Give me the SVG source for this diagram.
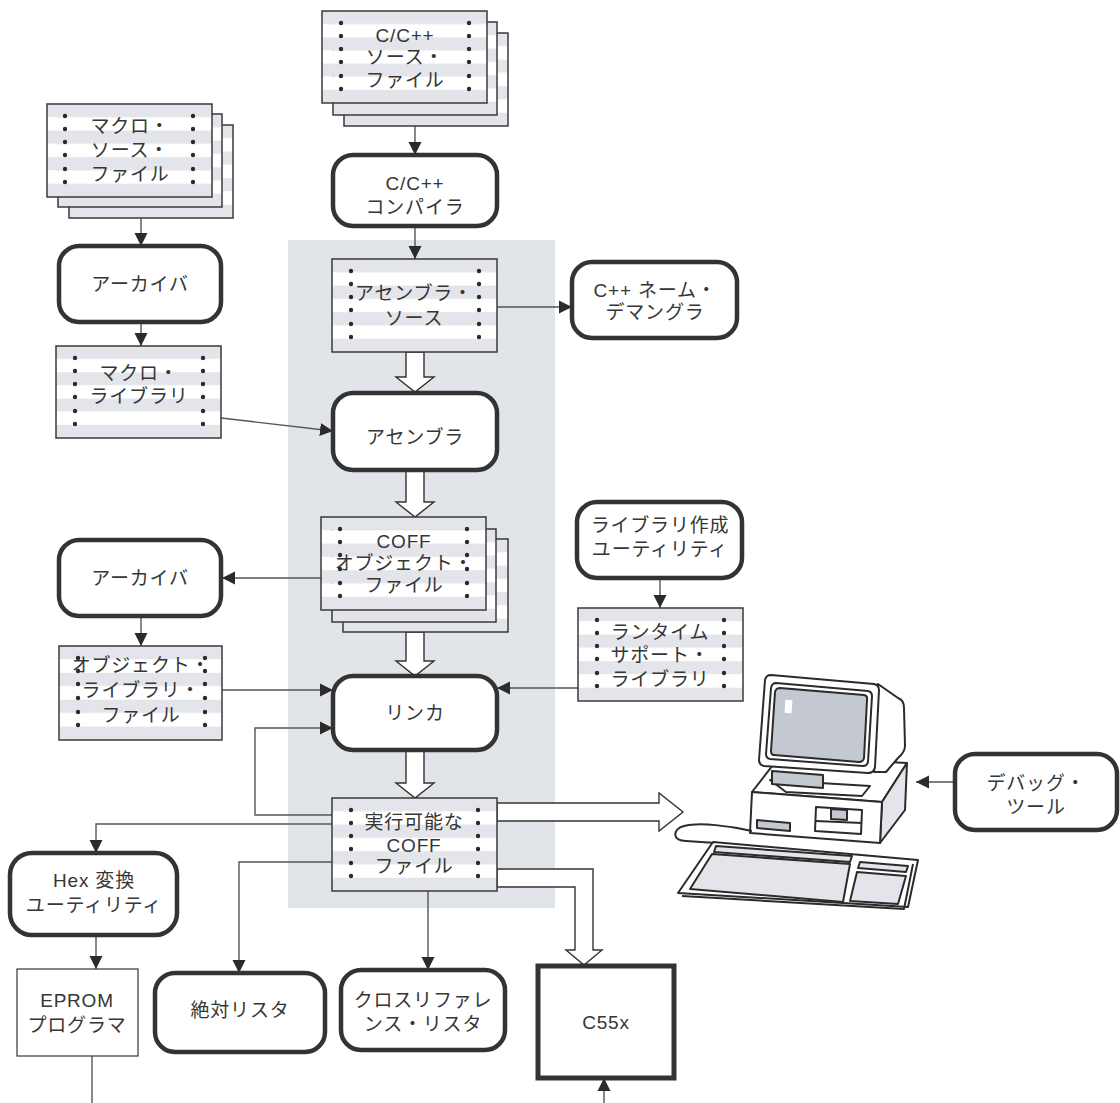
<svg xmlns="http://www.w3.org/2000/svg" width="1120" height="1103" viewBox="0 0 1120 1103">
  <style>
    text { font-family: "Liberation Sans", "Noto Sans CJK JP", sans-serif; font-size: 19px; fill: #363636; text-anchor: middle; letter-spacing: 0.8px; }
    .proc { fill: #fff; stroke: #333; stroke-width: 4.5; }
    .plain { fill: #fff; stroke: #444; stroke-width: 1.3; }
    .page { fill: url(#stripes); stroke: #3a3a3a; stroke-width: 1.5; }
    .dot { fill: #2b2b2b; }
    .wire { fill: none; stroke: #555; stroke-width: 1.4; }
    .hollow { fill: #fff; stroke: #333; stroke-width: 1.4; stroke-linejoin: miter; }
    .pc { stroke: #2b2b2b; stroke-width: 2; stroke-linejoin: round; }
  </style>
  <defs>
    <pattern id="stripes" patternUnits="objectBoundingBox" patternContentUnits="objectBoundingBox" width="1" height="0.285714">
      <rect width="1" height="0.142857" fill="#e3e5ea"/>
      <rect y="0.142857" width="1" height="0.142857" fill="#fff"/>
    </pattern>
    <marker id="arrow" markerUnits="userSpaceOnUse" markerWidth="14" markerHeight="14" viewBox="0 0 14 14" refX="13" refY="7" orient="auto">
      <path d="M0,0.5 L13,7 L0,13.5 Z" fill="#2b2b2b"/>
    </marker>
  </defs>

  <rect x="288" y="240" width="267" height="668" fill="#e1e4e9"/>

  <!-- connectors -->
  <g id="connectors">
    <line class="wire" x1="415" y1="126" x2="415" y2="155" marker-end="url(#arrow)"/>
    <line class="wire" x1="415" y1="226" x2="415" y2="259" marker-end="url(#arrow)"/>
    <line class="wire" x1="141" y1="218" x2="141" y2="246" marker-end="url(#arrow)"/>
    <line class="wire" x1="141" y1="322" x2="141" y2="346" marker-end="url(#arrow)"/>
    <line class="wire" x1="221" y1="418" x2="333" y2="431" marker-end="url(#arrow)"/>
    <line class="wire" x1="497" y1="307" x2="572" y2="307" marker-end="url(#arrow)"/>
    <line class="wire" x1="321" y1="578" x2="222" y2="578" marker-end="url(#arrow)"/>
    <line class="wire" x1="141" y1="616" x2="141" y2="646" marker-end="url(#arrow)"/>
    <line class="wire" x1="222" y1="690" x2="333" y2="690" marker-end="url(#arrow)"/>
    <line class="wire" x1="660" y1="578" x2="660" y2="608" marker-end="url(#arrow)"/>
    <line class="wire" x1="578" y1="688" x2="497" y2="688" marker-end="url(#arrow)"/>
    <polyline class="wire" points="333,815 255,815 255,728 333,728" marker-end="url(#arrow)"/>
    <polyline class="wire" points="333,824 96,824 96,853" marker-end="url(#arrow)"/>
    <line class="wire" x1="96" y1="935" x2="96" y2="969" marker-end="url(#arrow)"/>
    <polyline class="wire" points="333,862 239,862 239,973" marker-end="url(#arrow)"/>
    <line class="wire" x1="428" y1="891" x2="428" y2="970" marker-end="url(#arrow)"/>
    <line class="wire" x1="92" y1="1056" x2="92" y2="1103"/>
    <line class="wire" x1="955" y1="782" x2="916" y2="782" marker-end="url(#arrow)"/>
    <line class="wire" x1="604" y1="1103" x2="604" y2="1078" marker-end="url(#arrow)"/>

    <!-- wide hollow flow arrows -->
    <polygon class="hollow" points="406,352 406,377 396,377 415,392 434,377 424,377 424,352"/>
    <polygon class="hollow" points="406,470 406,502 396,502 415,517 434,502 424,502 424,470"/>
    <polygon class="hollow" points="406,632 406,661 396,661 415,676 434,661 424,661 424,632"/>
    <polygon class="hollow" points="406,750 406,783 396,783 415,798 434,783 424,783 424,750"/>
    <polygon class="hollow" points="497,803 659,803 659,793 683,812 659,831 659,821 497,821"/>
    <polygon class="hollow" points="497,869 593,869 593,950 602,950 584,965 566,950 575,950 575,887 497,887"/>
  </g>

  <!-- C/C++ source files -->
  <g id="cpp-source">
    <rect class="page" x="344" y="33" width="164" height="93"/>
    <rect class="page" x="333" y="22" width="164" height="93"/>
    <rect class="page" x="322" y="11" width="165" height="92"/>
    <g class="dot">
      <circle cx="341" cy="23" r="2.2"/><circle cx="341" cy="36" r="2.2"/><circle cx="341" cy="49" r="2.2"/><circle cx="341" cy="62" r="2.2"/><circle cx="341" cy="76" r="2.2"/><circle cx="341" cy="89" r="2.2"/>
      <circle cx="469" cy="23" r="2.2"/><circle cx="469" cy="36" r="2.2"/><circle cx="469" cy="49" r="2.2"/><circle cx="469" cy="62" r="2.2"/><circle cx="469" cy="76" r="2.2"/><circle cx="469" cy="89" r="2.2"/>
    </g>
    <text x="405" y="42">C/C++</text>
    <text x="405" y="64">ソース・</text>
    <text x="405" y="87">ファイル</text>
  </g>

  <!-- macro source files -->
  <g id="macro-source">
    <rect class="page" x="69" y="125" width="164" height="93"/>
    <rect class="page" x="58" y="114" width="164" height="93"/>
    <rect class="page" x="47" y="104" width="165" height="93"/>
    <g class="dot">
      <circle cx="65" cy="116" r="2.2"/><circle cx="65" cy="129" r="2.2"/><circle cx="65" cy="142" r="2.2"/><circle cx="65" cy="155" r="2.2"/><circle cx="65" cy="169" r="2.2"/><circle cx="65" cy="182" r="2.2"/>
      <circle cx="193" cy="116" r="2.2"/><circle cx="193" cy="129" r="2.2"/><circle cx="193" cy="142" r="2.2"/><circle cx="193" cy="155" r="2.2"/><circle cx="193" cy="169" r="2.2"/><circle cx="193" cy="182" r="2.2"/>
    </g>
    <text x="130" y="133">マクロ・</text>
    <text x="130" y="157">ソース・</text>
    <text x="130" y="181">ファイル</text>
  </g>

  <g id="compiler">
    <rect class="proc" x="333" y="155" width="164" height="71" rx="20"/>
    <text x="415" y="190">C/C++</text>
    <text x="415" y="214">コンパイラ</text>
  </g>

  <g id="archiver-1">
    <rect class="proc" x="59" y="246" width="162" height="76" rx="20"/>
    <text x="140" y="291">アーカイバ</text>
  </g>

  <g id="asm-source">
    <rect class="page" x="332" y="259" width="165" height="93"/>
    <g class="dot">
      <circle cx="351" cy="271" r="2.2"/><circle cx="351" cy="284" r="2.2"/><circle cx="351" cy="297" r="2.2"/><circle cx="351" cy="310" r="2.2"/><circle cx="351" cy="324" r="2.2"/><circle cx="351" cy="337" r="2.2"/>
      <circle cx="479" cy="271" r="2.2"/><circle cx="479" cy="284" r="2.2"/><circle cx="479" cy="297" r="2.2"/><circle cx="479" cy="310" r="2.2"/><circle cx="479" cy="324" r="2.2"/><circle cx="479" cy="337" r="2.2"/>
    </g>
    <text x="414" y="300">アセンブラ・</text>
    <text x="414" y="325">ソース</text>
  </g>

  <g id="demangler">
    <rect class="proc" x="572" y="262" width="165" height="76" rx="20"/>
    <text x="655" y="297">C++ ネーム・</text>
    <text x="655" y="319">デマングラ</text>
  </g>

  <g id="macro-library">
    <rect class="page" x="56" y="346" width="165" height="92"/>
    <g class="dot">
      <circle cx="75" cy="358" r="2.2"/><circle cx="75" cy="371" r="2.2"/><circle cx="75" cy="384" r="2.2"/><circle cx="75" cy="397" r="2.2"/><circle cx="75" cy="411" r="2.2"/><circle cx="75" cy="424" r="2.2"/>
      <circle cx="203" cy="358" r="2.2"/><circle cx="203" cy="371" r="2.2"/><circle cx="203" cy="384" r="2.2"/><circle cx="203" cy="397" r="2.2"/><circle cx="203" cy="411" r="2.2"/><circle cx="203" cy="424" r="2.2"/>
    </g>
    <text x="139" y="380">マクロ・</text>
    <text x="139" y="403">ライブラリ</text>
  </g>

  <g id="assembler">
    <rect class="proc" x="333" y="393" width="164" height="77" rx="20"/>
    <text x="415" y="444">アセンブラ</text>
  </g>

  <g id="coff-object">
    <rect class="page" x="343" y="539" width="165" height="93"/>
    <rect class="page" x="332" y="529" width="164" height="93"/>
    <rect class="page" x="321" y="517" width="165" height="93"/>
    <g class="dot">
      <circle cx="340" cy="529" r="2.2"/><circle cx="340" cy="542" r="2.2"/><circle cx="340" cy="555" r="2.2"/><circle cx="340" cy="569" r="2.2"/><circle cx="340" cy="583" r="2.2"/><circle cx="340" cy="596" r="2.2"/>
      <circle cx="467" cy="529" r="2.2"/><circle cx="467" cy="542" r="2.2"/><circle cx="467" cy="555" r="2.2"/><circle cx="467" cy="569" r="2.2"/><circle cx="467" cy="583" r="2.2"/><circle cx="467" cy="596" r="2.2"/>
    </g>
    <text x="404" y="548">COFF</text>
    <text x="404" y="570">オブジェクト・</text>
    <text x="404" y="592">ファイル</text>
  </g>

  <g id="archiver-2">
    <rect class="proc" x="59" y="540" width="162" height="76" rx="20"/>
    <text x="140" y="585">アーカイバ</text>
  </g>

  <g id="library-builder">
    <rect class="proc" x="577" y="502" width="165" height="76" rx="20"/>
    <text x="660" y="532">ライブラリ作成</text>
    <text x="660" y="556">ユーティリティ</text>
  </g>

  <g id="runtime-library">
    <rect class="page" x="578" y="608" width="165" height="93"/>
    <g class="dot">
      <circle cx="597" cy="620" r="2.2"/><circle cx="597" cy="633" r="2.2"/><circle cx="597" cy="646" r="2.2"/><circle cx="597" cy="659" r="2.2"/><circle cx="597" cy="673" r="2.2"/><circle cx="597" cy="686" r="2.2"/>
      <circle cx="724" cy="620" r="2.2"/><circle cx="724" cy="633" r="2.2"/><circle cx="724" cy="646" r="2.2"/><circle cx="724" cy="659" r="2.2"/><circle cx="724" cy="673" r="2.2"/><circle cx="724" cy="686" r="2.2"/>
    </g>
    <text x="660" y="639">ランタイム</text>
    <text x="660" y="662">サポート・</text>
    <text x="660" y="686">ライブラリ</text>
  </g>

  <g id="object-library">
    <rect class="page" x="59" y="646" width="163" height="94"/>
    <g class="dot">
      <circle cx="78" cy="658" r="2.2"/><circle cx="78" cy="671" r="2.2"/><circle cx="78" cy="684" r="2.2"/><circle cx="78" cy="698" r="2.2"/><circle cx="78" cy="712" r="2.2"/><circle cx="78" cy="725" r="2.2"/>
      <circle cx="205" cy="658" r="2.2"/><circle cx="205" cy="671" r="2.2"/><circle cx="205" cy="684" r="2.2"/><circle cx="205" cy="698" r="2.2"/><circle cx="205" cy="712" r="2.2"/><circle cx="205" cy="725" r="2.2"/>
    </g>
    <text x="141" y="672">オブジェクト・</text>
    <text x="141" y="697">ライブラリ・</text>
    <text x="141" y="722">ファイル</text>
  </g>

  <g id="linker">
    <rect class="proc" x="333" y="676" width="164" height="74" rx="20"/>
    <text x="415" y="720">リンカ</text>
  </g>

  <g id="executable">
    <rect class="page" x="332" y="798" width="165" height="93"/>
    <g class="dot">
      <circle cx="351" cy="810" r="2.2"/><circle cx="351" cy="823" r="2.2"/><circle cx="351" cy="836" r="2.2"/><circle cx="351" cy="849" r="2.2"/><circle cx="351" cy="863" r="2.2"/><circle cx="351" cy="876" r="2.2"/>
      <circle cx="478" cy="810" r="2.2"/><circle cx="478" cy="823" r="2.2"/><circle cx="478" cy="836" r="2.2"/><circle cx="478" cy="849" r="2.2"/><circle cx="478" cy="863" r="2.2"/><circle cx="478" cy="876" r="2.2"/>
    </g>
    <text x="414" y="829">実行可能な</text>
    <text x="414" y="852">COFF</text>
    <text x="414" y="873">ファイル</text>
  </g>

  <g id="debug-tools">
    <rect class="proc" x="955" y="754" width="162" height="76" rx="20"/>
    <text x="1036" y="790">デバッグ・</text>
    <text x="1036" y="814">ツール</text>
  </g>

  <g id="hex-converter">
    <rect class="proc" x="10" y="853" width="167" height="82" rx="22"/>
    <text x="94" y="887">Hex 変換</text>
    <text x="94" y="912">ユーティリティ</text>
  </g>

  <g id="eprom-programmer">
    <rect class="plain" x="17" y="969" width="121" height="87"/>
    <text x="77" y="1007">EPROM</text>
    <text x="77" y="1032">プログラマ</text>
  </g>

  <g id="absolute-lister">
    <rect class="proc" x="155" y="973" width="170" height="79" rx="20"/>
    <text x="240" y="1017">絶対リスタ</text>
  </g>

  <g id="xref-lister">
    <rect class="proc" x="341" y="970" width="164" height="80" rx="20"/>
    <text x="423" y="1007">クロスリファレ</text>
    <text x="423" y="1031">ンス・リスタ</text>
  </g>

  <g id="c55x">
    <rect x="538" y="966" width="136" height="112" fill="#fff" stroke="#333" stroke-width="5"/>
    <text x="606" y="1029">C55x</text>
  </g>

  <!-- workstation illustration -->
  <g id="workstation">
    <!-- system unit -->
    <polygon class="pc" points="752,792 780,756 907,763 882,802" fill="#fff"/>
    <polygon class="pc" points="882,802 907,763 905,810 880,843" fill="#e3e5ea"/>
    <polygon class="pc" points="752,792 882,802 880,843 750,833" fill="#fff"/>
    <polygon class="pc" points="757,820 790,823 790,831 757,828" fill="#c4c9d1" stroke-width="1.6"/>
    <polygon class="pc" points="816,807 862,810 861,834 815,831" fill="#fff" stroke-width="1.6"/>
    <line class="pc" x1="816" y1="821" x2="862" y2="823" stroke-width="1.4"/>
    <polygon class="pc" points="831,809 847,810 847,820 831,819" fill="#c4c9d1" stroke-width="1.4"/>
    <!-- monitor stand -->
    <polygon class="pc" points="770,780 870,786 862,796 786,792" fill="#fff"/>
    <polygon class="pc" points="772,771 823,775 823,788 772,784" fill="#c4c9d1" stroke-width="1.6"/>
    <!-- monitor housing -->
    <path class="pc" d="M878,684 L898,698 Q904,700 904,708 L905,746 Q905,752 898,758 L886,772 L874,772 Z" fill="#fff"/>
    <path class="pc" d="M771,675 L874,684 Q879,685 879,690 L875,767 Q874,773 868,773 L764,766 Q759,765 759,760 L765,680 Q766,675 771,675 Z" fill="#fff"/>
    <path class="pc" d="M776,683 L868,691 Q872,692 872,696 L868,762 Q867,766 863,766 L770,759 Q766,758 766,754 L771,688 Q772,683 776,683 Z" fill="#fff" stroke-width="1.6"/>
    <path class="pc" d="M780,688 L864,695 Q868,696 867,700 L864,758 Q863,762 859,762 L774,755 Q771,755 771,751 L775,692 Q776,688 780,688 Z" fill="#c4c9d1" stroke-width="1.6"/>
    <rect x="785" y="700" width="7" height="13" fill="#fff" transform="rotate(4 788 706)"/>
    <!-- cable -->
    <path class="pc" d="M752,831 C730,826 700,822 684,826 C672,829 672,841 686,841 L716,843" fill="none"/>
    <!-- keyboard -->
    <polygon class="pc" points="713,842 918,860 908,907 678,893" fill="#fff"/>
    <polyline class="pc" points="682,896 904,909 913,864" fill="none" stroke-width="1.4"/>
    <polygon class="pc" points="716,846 852,856 850,862 714,852" fill="#e3e5ea" stroke-width="1.4"/>
    <polygon class="pc" points="712,854 850,864 843,902 690,889" fill="#e3e5ea" stroke-width="1.4"/>
    <polygon class="pc" points="860,862 908,866 906,872 858,868" fill="#e3e5ea" stroke-width="1.4"/>
    <polygon class="pc" points="857,872 906,876 898,904 850,901" fill="#e3e5ea" stroke-width="1.4"/>
  </g>
</svg>
